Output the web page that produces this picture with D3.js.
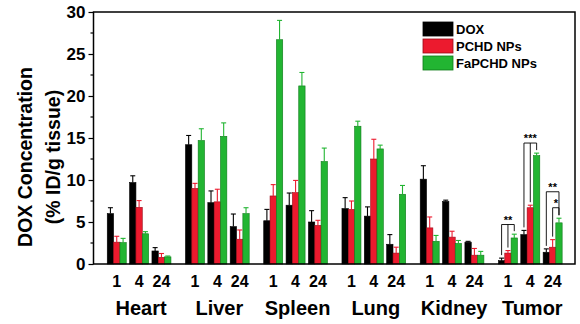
<!DOCTYPE html>
<html>
<head>
<meta charset="utf-8">
<script src="https://cdn.jsdelivr.net/npm/d3@7"></script>
<style>
  body { margin: 0; background: #fff; }
  svg text { font-family: "Liberation Sans", Arial, sans-serif; font-weight: bold; fill: #000; }
</style>
</head>
<body>
<div id="chart"></div>
<script>
const organs = ["Heart", "Liver", "Spleen", "Lung", "Kidney", "Tumor"];
const times = ["1", "4", "24"];
const series = ["DOX", "PCHD NPs", "FaPCHD NPs"];
const colors = ["#000000", "#ec1a2e", "#22b532"];
const strokes = ["#000000", "#9a0a18", "#0d7a18"];

// mean values, one row per organ, [1h, 4h, 24h]
const doxMean   = [[6.0, 9.7, 1.55], [14.2, 7.3, 4.45], [5.15, 7.0, 5.0], [6.6, 5.7, 2.35], [10.1, 7.45, 2.6], [0.4, 3.5, 1.4]];
const pchdMean  = [[2.6, 6.75, 0.8], [9.0, 7.4, 2.95], [8.1, 8.5, 4.6], [6.5, 12.5, 1.3], [4.3, 3.2, 1.05], [1.3, 6.7, 2.0]];
const fapMean   = [[2.55, 3.6, 0.85], [14.7, 15.2, 6.0], [26.7, 21.2, 12.2], [16.4, 13.7, 8.3], [2.7, 2.45, 1.05], [3.1, 12.9, 4.9]];
// standard deviations
const doxErr    = [[0.7, 0.8, 0.4], [1.1, 1.4, 1.5], [1.35, 1.45, 1.35], [1.3, 1.1, 1.15], [1.6, 0.15, 0.1], [0.3, 0.5, 0.4]];
const pchdErr   = [[0.7, 0.8, 0.45], [0.6, 1.5, 1.1], [1.35, 1.45, 0.6], [1.0, 2.35, 0.7], [1.3, 0.7, 0.8], [0.3, 0.3, 0.9]];
const fapErr    = [[0.5, 0.25, 0.1], [1.4, 1.6, 0.7], [2.3, 1.6, 1.6], [0.6, 0.45, 1.05], [0.7, 0.35, 0.45], [0.45, 0.3, 0.55]];

const yTicks = [0, 5, 10, 15, 20, 25, 30];
// significance marks for tumor: time index, from series, to series list, label
const sigMarks = [
  { t: 0, from: 0, to: [1, 2], y: 4.7, label: "**" },
  { t: 1, from: 0, to: [1, 2], y: 14.4, label: "***" },
  { t: 2, from: 0, to: [2], y: 8.6, label: "**" },
  { t: 2, from: 1, to: [2], y: 6.7, label: "*" }
];

const means = [doxMean, pchdMean, fapMean];
const errs = [doxErr, pchdErr, fapErr];

const W = 580, H = 324;
const m = { left: 93.5, right: 575, top: 12, bottom: 264 };

const svg = d3.select("#chart").append("svg")
  .attr("width", W).attr("height", H);

const slot = (g, t) => g * 3.5 + t;
const x = d3.scaleLinear().domain([-1.04, 20.5]).range([m.left, m.right]);
const inner = d3.scaleBand().domain(d3.range(3)).range([-9.5, 9.5]);
const y = d3.scaleLinear().domain([0, 30]).range([m.bottom, m.top]);

// flat data
const data = [];
organs.forEach((o, g) => times.forEach((t, ti) => series.forEach((s, si) => {
  data.push({ g, ti, si, v: means[si][g][ti], e: errs[si][g][ti] });
})));

// bars
svg.append("g").selectAll("rect")
  .data(data).enter().append("rect")
  .attr("x", d => x(slot(d.g, d.ti)) + inner(d.si))
  .attr("y", d => y(d.v))
  .attr("width", inner.bandwidth())
  .attr("height", d => m.bottom - y(d.v))
  .attr("fill", d => colors[d.si])
  .attr("stroke", d => strokes[d.si])
  .attr("stroke-width", 0.6);

// error bars (upper only)
const eb = svg.append("g").selectAll("g")
  .data(data).enter().append("g")
  .attr("stroke", d => colors[d.si])
  .attr("stroke-width", 1.1);
eb.append("line")
  .attr("x1", d => x(slot(d.g, d.ti)) + inner(d.si) + inner.bandwidth() / 2)
  .attr("x2", d => x(slot(d.g, d.ti)) + inner(d.si) + inner.bandwidth() / 2)
  .attr("y1", d => y(d.v))
  .attr("y2", d => y(d.v + d.e));
eb.append("line")
  .attr("x1", d => x(slot(d.g, d.ti)) + inner(d.si) + inner.bandwidth() / 2 - 2.5)
  .attr("x2", d => x(slot(d.g, d.ti)) + inner(d.si) + inner.bandwidth() / 2 + 2.5)
  .attr("y1", d => y(d.v + d.e))
  .attr("y2", d => y(d.v + d.e));

// frame
svg.append("rect")
  .attr("x", m.left).attr("y", m.top)
  .attr("width", m.right - m.left).attr("height", m.bottom - m.top)
  .attr("fill", "none").attr("stroke", "#000").attr("stroke-width", 1.5);

// y axis
const yAxis = d3.axisLeft(y).tickValues(yTicks).tickSize(5).tickPadding(3).tickSizeOuter(0);
const ya = svg.append("g").attr("transform", `translate(${m.left},0)`).call(yAxis);
ya.select(".domain").remove();
ya.selectAll("text").style("font-size", "17px");
ya.selectAll("line").attr("stroke-width", 1.2);
// minor ticks
svg.append("g").selectAll("line")
  .data(d3.range(2.5, 30, 5)).enter().append("line")
  .attr("x1", m.left - 3).attr("x2", m.left)
  .attr("y1", d => y(d)).attr("y2", d => y(d))
  .attr("stroke", "#000").attr("stroke-width", 1.2);

// x tick labels
const tickData = [];
organs.forEach((o, g) => times.forEach((t, ti) => tickData.push({ g, ti, t })));
svg.append("g").selectAll("text")
  .data(tickData).enter().append("text")
  .attr("x", d => x(slot(d.g, d.ti)))
  .attr("y", 287)
  .attr("text-anchor", "middle")
  .style("font-size", "16px")
  .text(d => d.t);

// organ labels
svg.append("g").selectAll("text")
  .data(organs).enter().append("text")
  .attr("x", (d, g) => x(slot(g, 1)) + 2)
  .attr("y", 315)
  .attr("text-anchor", "middle")
  .style("font-size", "20px")
  .text(d => d);

// y label
const yl = svg.append("g").attr("transform", "translate(0,157) rotate(-90)");
yl.append("text").attr("x", 0).attr("y", 32).attr("text-anchor", "middle")
  .style("font-size", "19.5px").text("DOX Concentration");
yl.append("text").attr("x", 0).attr("y", 60).attr("text-anchor", "middle")
  .style("font-size", "19.5px").text("(% ID/g tissue)");

// legend
const lg = svg.append("g").attr("transform", "translate(423,22)");
series.forEach((s, i) => {
  lg.append("rect").attr("x", 0).attr("y", i * 17).attr("width", 30).attr("height", 14)
    .attr("fill", colors[i]).attr("stroke", strokes[i]).attr("stroke-width", 0.8);
  lg.append("text").attr("x", 33).attr("y", i * 17 + 12)
    .style("font-size", "13px").text(s);
});

// significance brackets (tumor group)
const g5 = 5;
const cx = (t, si) => x(slot(g5, t)) + inner(si) + inner.bandwidth() / 2;
const sg = svg.append("g").attr("stroke", "#000").attr("stroke-width", 0.9).attr("fill", "none");
sigMarks.forEach(mk => {
  const yb = y(mk.y);
  const last = mk.to[mk.to.length - 1];
  sg.append("line").attr("x1", cx(mk.t, mk.from)).attr("x2", cx(mk.t, last))
    .attr("y1", yb).attr("y2", yb);
  [mk.from].concat(mk.to).forEach(si => {
    const top2 = means[si][g5][mk.t] + errs[si][g5][mk.t];
    sg.append("line").attr("x1", cx(mk.t, si)).attr("x2", cx(mk.t, si))
      .attr("y1", yb).attr("y2", y(top2) - 3);
  });
  svg.append("text")
    .attr("x", (cx(mk.t, mk.from) + cx(mk.t, last)) / 2)
    .attr("y", yb - 1)
    .attr("text-anchor", "middle")
    .style("font-size", "11px")
    .text(mk.label);
});
</script>
</body>
</html>
